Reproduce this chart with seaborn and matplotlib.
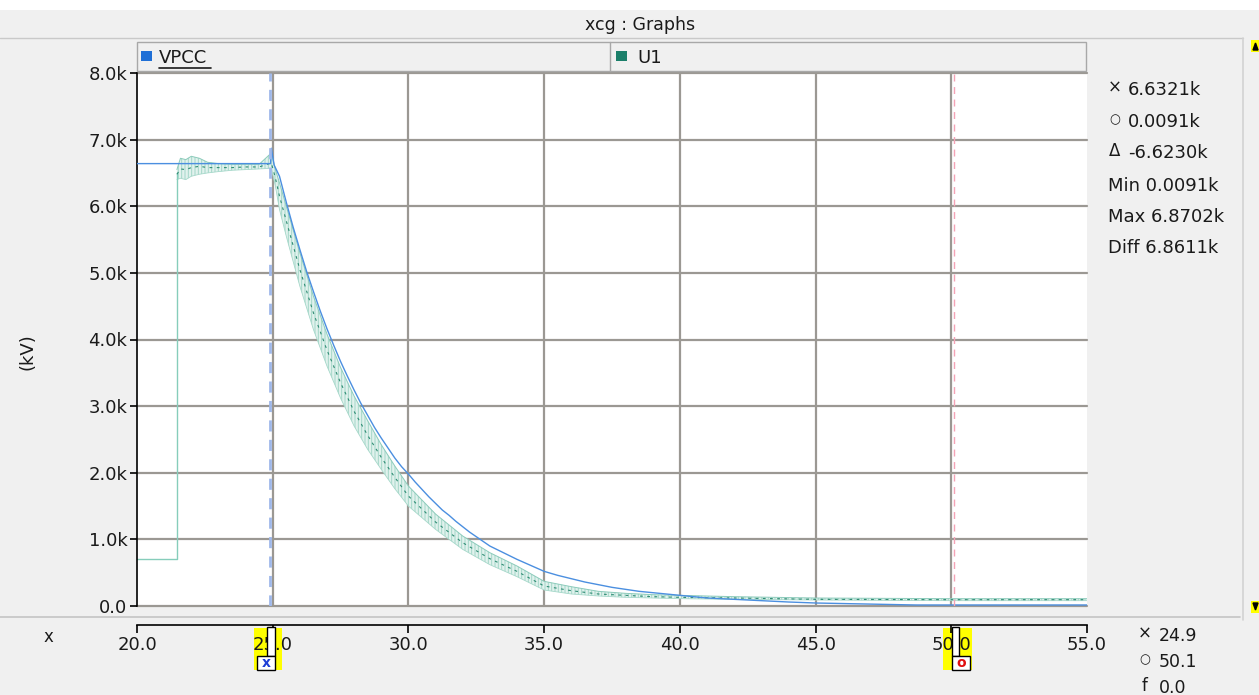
import matplotlib
matplotlib.use("Agg")
import matplotlib.pyplot as plt
import seaborn as sns
import pandas as pd
from matplotlib.patches import Rectangle, Polygon
from matplotlib.lines import Line2D

# ---------------- data ----------------
vpcc_t = [20.0, 24.92, 24.95, 25.05, 25.25, 25.5, 25.75, 26.0, 26.25, 26.5, 26.75, 27.0, 27.25,
          27.5, 27.75, 28.0, 28.25, 28.5, 28.75, 29.0, 29.25, 29.5, 29.75, 30.0, 30.25,
          30.5, 30.75, 31.0, 31.25, 31.5, 31.75, 32.0, 32.25, 32.5, 32.75, 33.0, 33.5,
          34.0, 34.5, 35.0, 35.5, 36.0, 36.5, 37.0, 37.5, 38.0, 38.5, 39.0, 39.5, 40.0,
          41.0, 42.0, 43.0, 44.0, 45.0, 48.7, 55.0]
vpcc_v = [6.64, 6.64, 6.87, 6.62, 6.45, 6.06, 5.69, 5.35, 5.02, 4.72, 4.43, 4.16, 3.91,
          3.67, 3.45, 3.24, 3.04, 2.86, 2.68, 2.52, 2.37, 2.22, 2.09, 1.98, 1.86,
          1.75, 1.64, 1.54, 1.44, 1.36, 1.27, 1.19, 1.11, 1.04, 0.97, 0.90, 0.80,
          0.70, 0.61, 0.52, 0.46, 0.41, 0.36, 0.32, 0.28, 0.25, 0.22, 0.20, 0.18, 0.16,
          0.12, 0.10, 0.08, 0.06, 0.045, 0.015, 0.015]

u1_pre_t = [20.0, 21.47]
u1_pre_v = [0.70, 6.50]

u1_t = [21.47, 21.6, 21.8, 22.0, 22.3, 22.6, 23.0, 23.5, 24.0, 24.5, 24.95, 25.1, 25.25,
        25.5, 26.0, 26.5, 27.0, 27.5, 28.0, 28.5, 29.0, 29.5, 30.0, 31.0, 32.0, 33.0,
        34.0, 35.0, 36.0, 37.0, 38.0, 39.0, 40.0, 42.0, 45.0, 50.0, 55.0]
u1_lo = [6.40, 6.42, 6.40, 6.45, 6.48, 6.50, 6.52, 6.54, 6.55, 6.56, 6.57, 6.30, 5.95,
         5.55, 4.80, 4.15, 3.60, 3.12, 2.70, 2.35, 2.05, 1.76, 1.50, 1.15, 0.85, 0.62,
         0.44, 0.24, 0.18, 0.15, 0.13, 0.12, 0.11, 0.10, 0.09, 0.08, 0.08]
u1_hi = [6.55, 6.72, 6.70, 6.75, 6.72, 6.66, 6.64, 6.63, 6.63, 6.63, 6.80, 6.55, 6.35,
         6.00, 5.30, 4.65, 4.08, 3.58, 3.15, 2.78, 2.42, 2.10, 1.80, 1.38, 1.05, 0.80,
         0.60, 0.37, 0.29, 0.22, 0.19, 0.17, 0.16, 0.14, 0.12, 0.11, 0.11]
u1_mid = [6.48, 6.56, 6.55, 6.58, 6.60, 6.58, 6.58, 6.58, 6.59, 6.59, 6.65, 6.42, 6.15,
          5.78, 5.05, 4.40, 3.84, 3.35, 2.92, 2.56, 2.23, 1.93, 1.65, 1.26, 0.95, 0.71,
          0.52, 0.30, 0.23, 0.18, 0.16, 0.14, 0.13, 0.12, 0.10, 0.095, 0.095]

x_ticks = [20, 25, 30, 35, 40, 45, 50, 55]
x_tick_labels = ["20.0", "25.0", "30.0", "35.0", "40.0", "45.0", "50.0", "55.0"]
y_ticks = [0, 1, 2, 3, 4, 5, 6, 7, 8]
y_tick_labels = ["0.0", "1.0k", "2.0k", "3.0k", "4.0k", "5.0k", "6.0k", "7.0k", "8.0k"]

series_names = ["VPCC", "U1"]
cursor_x = 24.9
cursor_o = 50.1
stats_sym = ["\u00d7", "\u25cb", "\u0394", "", "", ""]
stats_txt = ["6.6321k", "0.0091k", "-6.6230k", "Min 0.0091k", "Max 6.8702k", "Diff 6.8611k"]
cursor_sym = ["\u00d7", "\u25cb", "f"]
cursor_txt = ["24.9", "50.1", "0.0"]

# ---------------- style ----------------
sns.set_style("white")
plt.rcParams['font.family'] = ['DejaVu Sans']
plt.rcParams['hatch.linewidth'] = 0.7

W, H = 1259, 695
BG = '#f0f0f0'
fig = plt.figure(figsize=(W / 100, H / 100), dpi=100, facecolor=BG)


def fx(x):
    return x / W


def fy(y):
    return 1 - y / H


def frect(x0, y0, x1, y1, **kw):
    r = Rectangle((fx(x0), fy(y1)), (x1 - x0) / W, (y1 - y0) / H,
                  transform=fig.transFigure, **kw)
    fig.add_artist(r)
    return r


def fline(xs, ys, **kw):
    fig.add_artist(Line2D([fx(v) for v in xs], [fy(v) for v in ys],
                          transform=fig.transFigure, **kw))


# window chrome
frect(0, 0, W, 10, facecolor='white', edgecolor='none')
fline([0, 1243], [38, 38], color='#c9c9c9', lw=1)
fig.text(fx(640), fy(25), 'xcg : Graphs', ha='center', va='center',
         fontsize=12.5, color='#1a1a1a')

# ---------------- main axes ----------------
ax = fig.add_axes([fx(137), fy(606), (1087 - 137) / W, (606 - 73) / H])
ax.set_facecolor('white')
ax.set_xlim(20, 55)
ax.set_ylim(0, 8)

grid_c = '#9b9893'
for xv in x_ticks[1:-1]:
    ax.axvline(xv, color=grid_c, lw=1.6, zorder=0.5)
for yv in y_ticks:
    ax.axhline(yv, color=grid_c, lw=1.6, zorder=0.5, clip_on=False)

# U1 band (oscillation envelope)
ax.fill_between(u1_t, u1_lo, u1_hi, facecolor='#e1f2ed', edgecolor='#a3d6c8',
                hatch='|||||', linewidth=0, zorder=2)
ax.plot(u1_t, u1_hi, color='#8ccbbb', lw=0.7, zorder=2.1)
ax.plot(u1_t, u1_lo, color='#a6d8ca', lw=0.6, zorder=2.1)

df_pre = pd.DataFrame({'t': u1_pre_t, 'v': u1_pre_v})
sns.lineplot(data=df_pre, x='t', y='v', ax=ax, estimator=None, sort=False,
             drawstyle='steps-post', color='#86cdbb', lw=1.0, zorder=2.2)
df_mid = pd.DataFrame({'t': u1_t, 'v': u1_mid})
sns.lineplot(data=df_mid, x='t', y='v', ax=ax, estimator=None, sort=False,
             color='#2f8c74', lw=0.8, linestyle=(0, (2.5, 4)), zorder=2.3)

df_v = pd.DataFrame({'t': vpcc_t, 'v': vpcc_v})
sns.lineplot(data=df_v, x='t', y='v', ax=ax, estimator=None, sort=False,
             color='#4b8fe0', lw=1.0, zorder=3)

# cursor lines
ax.axvline(cursor_x, color='#9fb8ea', lw=2.0, ls=(0, (4, 3)), zorder=4)
ax.axvline(cursor_o, color='#f4a3b6', lw=1.0, ls=(0, (5, 4)), zorder=4)

for s in ['top', 'right', 'bottom']:
    ax.spines[s].set_visible(False)
ax.spines['left'].set_color('black')
ax.spines['left'].set_linewidth(1.2)
ax.set_yticks(y_ticks)
ax.set_yticklabels(y_tick_labels)
ax.set_xticks([])
ax.tick_params(axis='y', left=True, direction='out', length=5, width=1.2,
               color='black', labelsize=13, labelcolor='#1a1a1a', pad=2)
ax.set_xlabel('')
ax.set_ylabel('')
fig.text(fx(28), fy(352), '(kV)', rotation=90, ha='center', va='center',
         fontsize=13, color='#1a1a1a')

# ---------------- x axis strip ----------------
ax2 = fig.add_axes([fx(137), fy(636), (1087 - 137) / W, 11 / H])
ax2.patch.set_visible(False)
ax2.set_xlim(20, 55)
ax2.set_ylim(0, 1)
for s in ['left', 'right', 'bottom']:
    ax2.spines[s].set_visible(False)
ax2.spines['top'].set_color('black')
ax2.spines['top'].set_linewidth(1.2)
ax2.set_xticks(x_ticks)
ax2.set_xticklabels(x_tick_labels)
ax2.set_yticks([])
ax2.tick_params(axis='x', bottom=False, top=True, labelbottom=True, labeltop=False,
                direction='in', length=6, width=1.2, color='black',
                labelsize=13, labelcolor='#1a1a1a', pad=0)
fig.text(fx(48), fy(637), 'x', ha='center', va='center', fontsize=12, color='#1a1a1a')

# panel border under plot
fline([0, 1240], [617, 617], color='#c4c4c4', lw=1.2)

# ---------------- legend bar ----------------
frect(137, 42, 1086, 71, facecolor='#f0f0f0', edgecolor='#a8a8a8', lw=1.0)
fline([610, 610], [42, 71], color='#a8a8a8', lw=1.0)
frect(141, 51, 152, 61, facecolor='#1f6fd6', edgecolor='none')
fig.text(fx(159), fy(58), series_names[0], ha='left', va='center', fontsize=13,
         color='#1a1a1a')
fline([159, 211], [68, 68], color='#1a1a1a', lw=1.2)
frect(616, 51, 627, 61, facecolor='#1b7f6a', edgecolor='none')
fig.text(fx(637), fy(58), series_names[1], ha='left', va='center', fontsize=13,
         color='#1a1a1a')

# ---------------- right info panel ----------------
rows_y = [90, 122, 153, 186, 217, 248]
for yy, sym, txt in zip(rows_y, stats_sym, stats_txt):
    if sym:
        fig.text(fx(1115), fy(yy - 2), sym, ha='center', va='center',
                 fontsize=12 if sym != "\u25cb" else 9, color='#1a1a1a')
        fig.text(fx(1128), fy(yy), txt, ha='left', va='center', fontsize=13,
                 color='#1a1a1a')
    else:
        fig.text(fx(1108), fy(yy), txt, ha='left', va='center', fontsize=13,
                 color='#1a1a1a')

# scrollbar on the right
fline([1243, 1243], [38, 620], color='#d2d2d2', lw=1.2)
frect(1251, 40, W, 52, facecolor='#ffff00', edgecolor='none')
frect(1251, 601, W, 613, facecolor='#ffff00', edgecolor='none')
fig.add_artist(Polygon([[fx(1253), fy(50)], [fx(1258), fy(50)], [fx(1255.5), fy(43)]],
                       closed=True, transform=fig.transFigure, color='black'))
fig.add_artist(Polygon([[fx(1253), fy(603)], [fx(1258), fy(603)], [fx(1255.5), fy(610)]],
                       closed=True, transform=fig.transFigure, color='black'))

# cursor values at bottom right
for yy, sym, txt in zip([636, 662, 688], cursor_sym, cursor_txt):
    fig.text(fx(1145), fy(yy - 2), sym, ha='center', va='center',
             fontsize=12 if sym != "\u25cb" else 9, color='#1a1a1a')
    fig.text(fx(1159), fy(yy), txt, ha='left', va='center', fontsize=12.5,
             color='#1a1a1a')

# ---------------- cursor handles ----------------
fig.canvas.draw()
cx_px = ax.transData.transform((cursor_x, 0))[0]
co_px = ax.transData.transform((cursor_o, 0))[0]
cx_px = cx_px * W / fig.bbox.width
co_px = co_px * W / fig.bbox.width

# x handle (box on the left of the tab)
frect(cx_px - 16, 628, cx_px + 12, 670, facecolor='#ffff00', edgecolor='none', zorder=-1)
frect(cx_px - 3, 627, cx_px + 5, 656, facecolor='white', edgecolor='black', lw=1.0, zorder=6)
frect(cx_px - 13, 656, cx_px + 5, 670, facecolor='white', edgecolor='black', lw=1.0, zorder=6)
fig.text(fx(cx_px - 4), fy(663), 'x', ha='center', va='center', fontsize=10,
         fontweight='bold', color='#1f3fd6', zorder=7)

# o handle (box on the right of the tab)
frect(co_px - 11, 628, co_px + 18, 670, facecolor='#ffff00', edgecolor='none', zorder=-1)
frect(co_px - 2, 627, co_px + 5, 656, facecolor='white', edgecolor='black', lw=1.0, zorder=6)
frect(co_px - 2, 656, co_px + 16, 670, facecolor='white', edgecolor='black', lw=1.0, zorder=6)
fig.text(fx(co_px + 7), fy(663), 'o', ha='center', va='center', fontsize=10,
         fontweight='bold', color='#e01010', zorder=7)

fig.savefig('out.png', dpi=100, facecolor=BG)
